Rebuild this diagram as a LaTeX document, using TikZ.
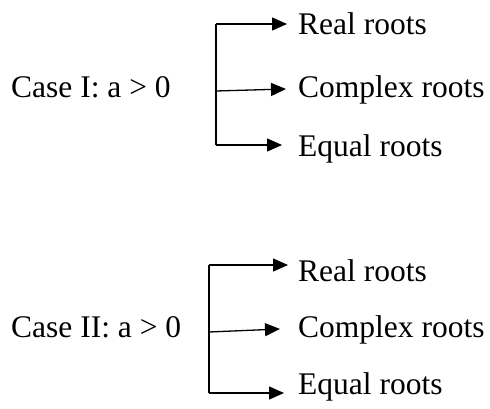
\documentclass[tikz,border=0pt]{standalone}
\usepackage{fontspec}
\setmainfont{Liberation Serif}
\usetikzlibrary{arrows.meta}
\begin{document}
\begin{tikzpicture}[x=1pt,y=-1pt,
  lbl/.style={anchor=base west,inner sep=0pt,font=\fontsize{31.5}{37}\selectfont},
  br/.style={line width=1.3pt},
  arr/.style={line width=1.3pt,-{Triangle[length=15pt,width=13pt]}}]
\useasboundingbox (0,0) rectangle (490,409);
% Case I
\node[lbl] (c1) at (11,98) {Case I: a > 0};
\node[lbl] (r1) at (298,35) {Real roots};
\node[lbl] (x1) at (298,98) {Complex roots};
\node[lbl] (e1) at (298,157) {Equal roots};
\coordinate (a1) at (216,24);
\coordinate (m1) at (216,91);
\coordinate (b1) at (216,145);
\coordinate (ta1) at (287,24);
\coordinate (tm1) at (286,89);
\coordinate (tb1) at (282,145);
\draw[br] (a1) -- (b1);
\draw[arr] (a1) -- (ta1);
\draw[arr] (m1) -- (tm1);
\draw[arr] (b1) -- (tb1);
% Case II
\node[lbl] (c2) at (11,337) {Case II: a > 0};
\node[lbl] (r2) at (298,281) {Real roots};
\node[lbl] (x2) at (298,337) {Complex roots};
\node[lbl] (e2) at (298,394) {Equal roots};
\coordinate (a2) at (209,265);
\coordinate (m2) at (209,332);
\coordinate (b2) at (209,393);
\coordinate (ta2) at (288,265);
\coordinate (tm2) at (280,329);
\coordinate (tb2) at (284,393);
\draw[br] (a2) -- (b2);
\draw[arr] (a2) -- (ta2);
\draw[arr] (m2) -- (tm2);
\draw[arr] (b2) -- (tb2);
\end{tikzpicture}
\end{document}
